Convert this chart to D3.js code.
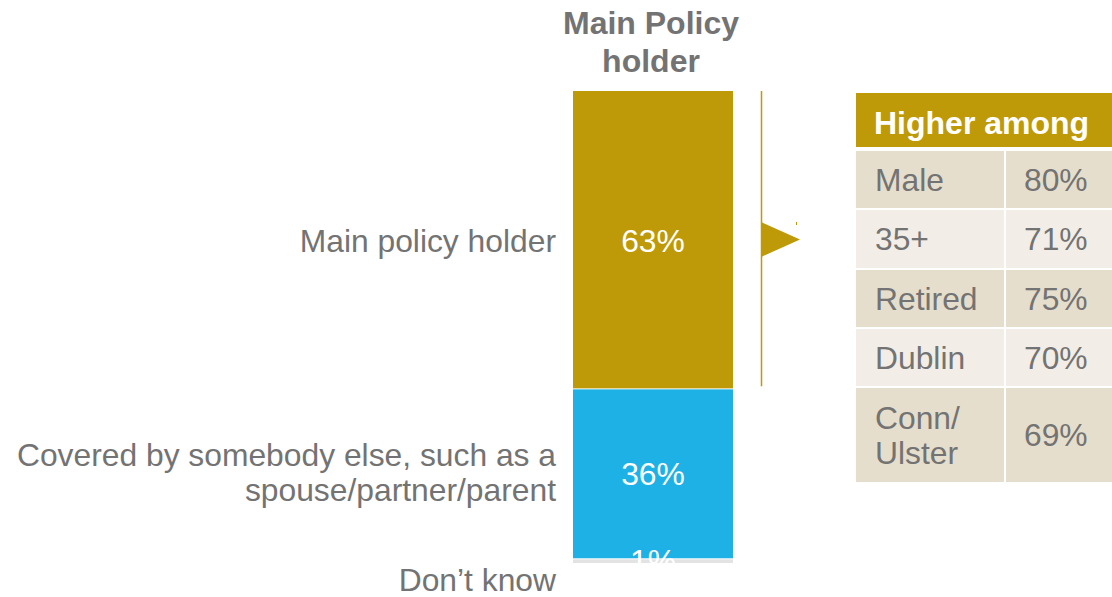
<!DOCTYPE html>
<html><head><meta charset="utf-8">
<script src="https://cdn.jsdelivr.net/npm/d3@7"></script>
<style>body{margin:0;background:#fff;font-family:"Liberation Sans",Arial,sans-serif;}</style>
</head><body><svg id="c" width="1112" height="597"></svg>
<script>
const categories = ["Main policy holder", "Covered by somebody else, such as a|spouse/partner/parent", "Don\u2019t know"];
const values = [63, 36, 1];
const colors = ["#BE9A08", "#1EB1E6", "#E3E3E3"];
const seriesTitle = ["Main Policy", "holder"];
const tableHeader = "Higher among";
const tableLabels = ["Male", "35+", "Retired", "Dublin", "Conn/|Ulster"];
const tableValues = ["80%", "71%", "75%", "70%", "69%"];

const svg = d3.select("#c");
const grey = "#737373";
const font = "'Liberation Sans', Arial, sans-serif";
const fs = 31.8;

const y = d3.scaleLinear().domain([0, 100]).range([91, 563]);
const x = d3.scaleBand().domain(["s"]).range([573, 733]).padding(0);

// title
svg.append("text").attr("text-anchor", "middle")
  .attr("font-family", font).attr("font-weight", "bold").attr("font-size", 32).attr("fill", grey)
  .selectAll("tspan").data(seriesTitle).join("tspan")
  .attr("x", 651).attr("y", (d, i) => 34 + i * 38).text(d => d);

let cum = 0;
const segs = values.map((v, i) => { const s = {v, i, y0: cum, y1: cum + v}; cum += v; return s; });

svg.selectAll("rect.bar").data(segs).join("rect").attr("class", "bar")
  .attr("x", x("s")).attr("width", x.bandwidth())
  .attr("y", d => y(d.y0) + (d.i ? 1 : 0))
  .attr("height", d => y(d.y1) - y(d.y0) - (d.i ? 1 : 0))
  .attr("fill", d => colors[d.i]);

svg.selectAll("text.val").data(segs).join("text").attr("class", "val")
  .attr("x", x("s") + x.bandwidth() / 2)
  .attr("y", d => d.i === 2 ? y(d.y0) + 14 : (y(d.y0) + y(d.y1)) / 2 + 12)
  .attr("text-anchor", "middle").attr("font-family", font).attr("font-size", fs)
  .attr("fill", "#fff").text(d => d.v + "%");

// white cover below bar so 1% label appears clipped
svg.append("rect").attr("x", 560).attr("y", y(100)).attr("width", 200).attr("height", 14).attr("fill", "#fff");

// category labels
const labelY = [252, 483, 591];
svg.selectAll("text.cat").data(categories).join("text").attr("class", "cat")
  .attr("text-anchor", "end").attr("font-family", font).attr("font-size", fs).attr("fill", grey)
  .each(function(d, i) {
    const lines = d.split("|");
    const t = d3.select(this);
    const y0 = labelY[i] - (lines.length - 1) * 17.5;
    lines.forEach((l, j) => t.append("tspan").attr("x", 556).attr("y", y0 + j * 35).text(l));
  });

// bracket line and arrow
svg.append("line").attr("x1", 761.5).attr("x2", 761.5).attr("y1", y(0)).attr("y2", y(values[0]) - 2)
  .attr("stroke", "#BE9A08").attr("stroke-width", 1.5);
svg.append("path").attr("d", "M761,222 L800,239.5 L761,257 Z").attr("fill", "#BE9A08");
svg.append("line").attr("x1", 796.5).attr("x2", 796.5).attr("y1", 222).attr("y2", 225)
  .attr("stroke", "#BE9A08").attr("stroke-width", 1);

// table
const tx = 856, tw = 256, colX = 1005;
svg.append("rect").attr("x", tx).attr("y", 93).attr("width", tw).attr("height", 54).attr("fill", "#BE9A08");
svg.append("text").attr("x", 874).attr("y", 134).attr("font-family", font).attr("font-weight", "bold")
  .attr("font-size", 32).attr("fill", "#fff").text(tableHeader);

const rowTops = [151, 210, 270, 329, 388];
const rowBots = [208, 268, 327, 386, 482];
const rows = tableLabels.map((l, i) => ({l, v: tableValues[i], i}));
const g = svg.selectAll("g.row").data(rows).join("g").attr("class", "row");
g.append("rect").attr("x", tx).attr("y", d => rowTops[d.i]).attr("width", colX - tx - 1)
  .attr("height", d => rowBots[d.i] - rowTops[d.i]).attr("fill", d => d.i % 2 ? "#F2EEE7" : "#E6DECC");
g.append("rect").attr("x", colX + 1).attr("y", d => rowTops[d.i]).attr("width", 1112 - colX - 1)
  .attr("height", d => rowBots[d.i] - rowTops[d.i]).attr("fill", d => d.i % 2 ? "#F2EEE7" : "#E6DECC");
g.append("text").attr("font-family", font).attr("font-size", fs).attr("fill", grey)
  .each(function(d) {
    const lines = d.l.split("|");
    const mid = (rowTops[d.i] + rowBots[d.i]) / 2;
    const t = d3.select(this);
    const y0 = mid + 11 - (lines.length - 1) * 17.5;
    lines.forEach((l, j) => t.append("tspan").attr("x", 875).attr("y", y0 + j * 35).text(l));
  });
g.append("text").attr("font-family", font).attr("font-size", fs).attr("fill", grey)
  .attr("x", 1024).attr("y", d => (rowTops[d.i] + rowBots[d.i]) / 2 + 11).text(d => d.v);
</script></body></html>
